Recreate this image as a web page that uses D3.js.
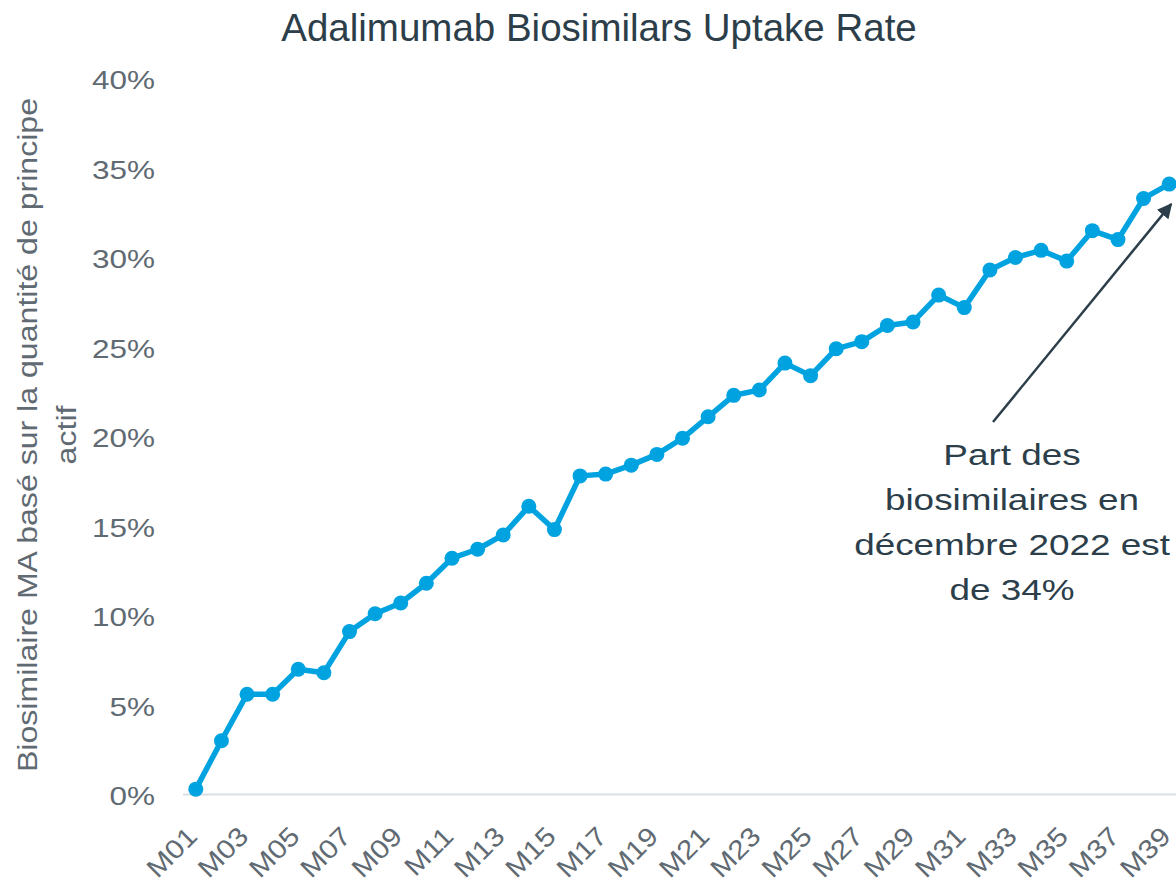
<!DOCTYPE html>
<html><head><meta charset="utf-8">
<script src="https://cdn.jsdelivr.net/npm/d3@7"></script>
<style>body{margin:0;background:#fff;}svg{display:block;font-family:"Liberation Sans",Arial,sans-serif;}</style>
</head><body>
<svg id="c" width="1176" height="883"></svg>
<script>
const months = d3.range(1,40).map(i => "M" + String(i).padStart(2,"0"));
const values = [0.3,3.0,5.6,5.6,7.0,6.8,9.1,10.1,10.7,11.8,13.2,13.7,14.5,16.1,14.8,17.8,17.9,18.4,19.0,19.9,21.1,22.3,22.6,24.1,23.4,24.9,25.3,26.2,26.4,27.9,27.2,29.3,30.0,30.4,29.8,31.5,31.0,33.3,34.1];
const yTicks = [0,5,10,15,20,25,30,35,40];
const tickLabels = months.filter((m,i) => i % 2 === 0);
const title = "Adalimumab Biosimilars Uptake Rate";
const yTitle = ["Biosimilaire MA basé sur la quantité de principe", "actif"];
const annotation = ["Part des", "biosimilaires en", "décembre 2022 est", "de 34%"];

const svg = d3.select("#c");
const mLeft = 183, mRight = 1182, mTop = 78.5, mBottom = 794.5;
const x = d3.scalePoint().domain(months).range([mLeft, mRight]).padding(0.5);
const y = d3.scaleLinear().domain([0,40]).range([mBottom, mTop]);
const gray = "#5f6a72", dark = "#2c3e4a", blue = "#00a3e0";
const FF = "Liberation Sans, Arial, sans-serif";

svg.append("text").attr("x", 599).attr("y", 41).attr("text-anchor","middle")
  .attr("font-size", 38.5).attr("fill", dark).text(title);

svg.append("line").attr("x1", mLeft).attr("x2", 1176).attr("y1", mBottom).attr("y2", mBottom)
  .attr("stroke", "#d9dfe3").attr("stroke-width", 2);

const ya = svg.append("g").attr("transform", `translate(${mLeft},0)`)
  .call(d3.axisLeft(y).tickValues(yTicks).tickFormat(d => d + "%").tickSize(0));
ya.select(".domain").remove();
ya.selectAll("text").attr("font-size", 25.6).attr("fill", gray).attr("font-family", FF)
  .attr("x", 0).attr("dy", "0.36em").attr("transform", "translate(-28,1) scale(1.23,1)");

const xa = svg.append("g").attr("transform", `translate(0,${mBottom})`)
  .call(d3.axisBottom(x).tickValues(tickLabels).tickSize(0));
xa.select(".domain").remove();
xa.selectAll("text").attr("font-size", 26.5).attr("fill", gray).attr("font-family", FF)
  .attr("text-anchor", "end").attr("dy", null).attr("y", 0)
  .attr("transform", "translate(2.5,43.5) rotate(-45) scale(1.13,1)");

const yt = svg.append("text").attr("transform", "translate(0,435) rotate(-90) scale(1.146,1)")
  .attr("text-anchor", "middle").attr("font-size", 28).attr("fill", gray);
yt.selectAll("tspan").data(yTitle).join("tspan").attr("x", 0).attr("y", (d,i) => 37 + i*39.5).text(d => d);

svg.append("path").datum(values)
  .attr("d", d3.line().x((d,i) => x(months[i])).y(d => y(d)))
  .attr("fill", "none").attr("stroke", blue).attr("stroke-width", 5.5).attr("stroke-linejoin", "round");
svg.selectAll("circle.pt").data(values).join("circle").attr("class","pt")
  .attr("cx", (d,i) => x(months[i])).attr("cy", d => y(d)).attr("r", 7.5).attr("fill", blue);

const defs = svg.append("defs");
defs.append("marker").attr("id","arr").attr("viewBox","0 0 10 10").attr("refX", 9).attr("refY", 5)
  .attr("markerWidth", 6).attr("markerHeight", 6).attr("orient","auto-start-reverse").attr("markerUnits","strokeWidth")
  .append("path").attr("d","M0,0 L10,5 L0,10 z").attr("fill", dark);
const last = values.length - 1;
svg.append("line").attr("x1", 993).attr("y1", 422)
  .attr("x2", x(months[last]) + 2).attr("y2", y(values[last]) + 20)
  .attr("stroke", dark).attr("stroke-width", 2.5).attr("marker-end", "url(#arr)");

svg.append("g").attr("transform", "translate(1012,0) scale(1.23,1)")
  .selectAll("text").data(annotation).join("text")
  .attr("x", 0).attr("y", (d,i) => 465 + i*45).attr("text-anchor","middle")
  .attr("font-size", 30).attr("fill", dark).text(d => d);
</script>
</body></html>
